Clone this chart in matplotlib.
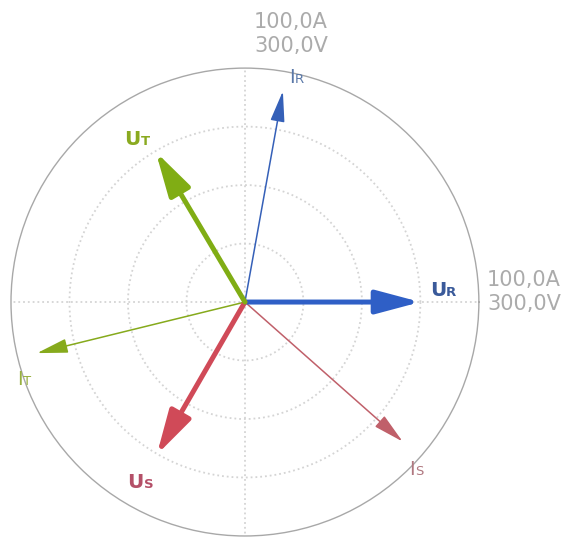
import numpy as np
import matplotlib
matplotlib.use('Agg')
from matplotlib import pyplot as plt

#-----Phasor data-----------------------------------------------------------
# voltages (V), scale 300 V ; currents (A), scale 100 A
u_names = ['R', 'S', 'T']
u_angle = [0.0, 240.0, 120.7]          # degrees
u_value = [225.0, 226.0, 224.0]
i_names = ['R', 'S', 'T']
i_angle = [79.8, -41.5, 193.8]
i_value = [91.6, 90.0, 91.5]
u_scale = 300.0
i_scale = 100.0
scale_labels = ['100,0A', '300,0V']

u_colors = ['#2f5fc6', '#d04a58', '#80ad14']
i_colors = ['#3560b8', '#c0606a', '#86aa1c']
u_label_colors = ['#3a5a9a', '#b45068', '#8aaa20']
i_label_colors = ['#5a78a8', '#b07880', '#98b040']

# label anchors (deg, fraction of radius)
u_lab_pos = [(1.7, 0.86), (241.5, 0.905), (123.5, 0.805)]
i_lab_pos = [(77.1, 0.96), (-45.5, 1.036), (200.5, 1.013)]

#-----Figure----------------------------------------------------------------
fig = plt.figure(figsize=(5.61, 5.41), dpi=100)
ax = fig.add_axes([0.0196, 0.0092, 0.834, 0.865], projection='polar')
ax.set_ylim(0, 1)
ax.set_rgrids([0.25, 0.5, 0.75], labels=[])
ax.set_thetagrids([0, 90, 180, 270], labels=[])
ax.grid(True, color='#d4d4d4', linestyle=':', linewidth=1.3)
ax.spines['polar'].set_color('#a8a8a8')
ax.spines['polar'].set_linewidth(1.0)
ax.tick_params(length=0)

def phasor(ang, r, color, thick):
    if thick:
        style = '-|>,head_length=1.35,head_width=0.36'
        lw = 3.6
    else:
        style = '-|>,head_length=0.95,head_width=0.22'
        lw = 1.1
    ax.annotate('', xy=(np.radians(ang), r), xytext=(0, 0),
                arrowprops=dict(arrowstyle=style, color=color, lw=lw,
                                mutation_scale=20, shrinkA=0, shrinkB=0))

def label(ang, r, main, sub, color, bold):
    w = 'bold' if bold else 'normal'
    th = np.radians(ang)
    ax.text(th, r, main, color=color, fontsize=14.5 if bold else 14,
            fontweight=w, ha='right', va='baseline', family='DejaVu Sans')
    ax.text(th, r, sub, color=color, fontsize=9.5, fontweight=w,
            ha='left', va='baseline', family='DejaVu Sans')

for k in range(3):
    phasor(i_angle[k], i_value[k] / i_scale, i_colors[k], False)
for k in range(3):
    phasor(u_angle[k], u_value[k] / u_scale, u_colors[k], True)

for k in range(3):
    label(u_lab_pos[k][0], u_lab_pos[k][1], 'U', u_names[k], u_label_colors[k], True)
    label(i_lab_pos[k][0], i_lab_pos[k][1], 'I', i_names[k], i_label_colors[k], False)

#-----Scale labels----------------------------------------------------------
fnt = ['Liberation Sans Narrow', 'DejaVu Sans']
fig.text(291 / 561, 1 - 33.5 / 541, '\n'.join(scale_labels), ha='center', va='center',
         color='#ababab', fontsize=15, family=fnt, linespacing=1.25)
fig.text(487 / 561, 1 - 291.5 / 541, '\n'.join(scale_labels), ha='left', va='center',
         color='#ababab', fontsize=15, family=fnt, linespacing=1.25)

fig.savefig('out.png', dpi=100)
#_____END_____#
